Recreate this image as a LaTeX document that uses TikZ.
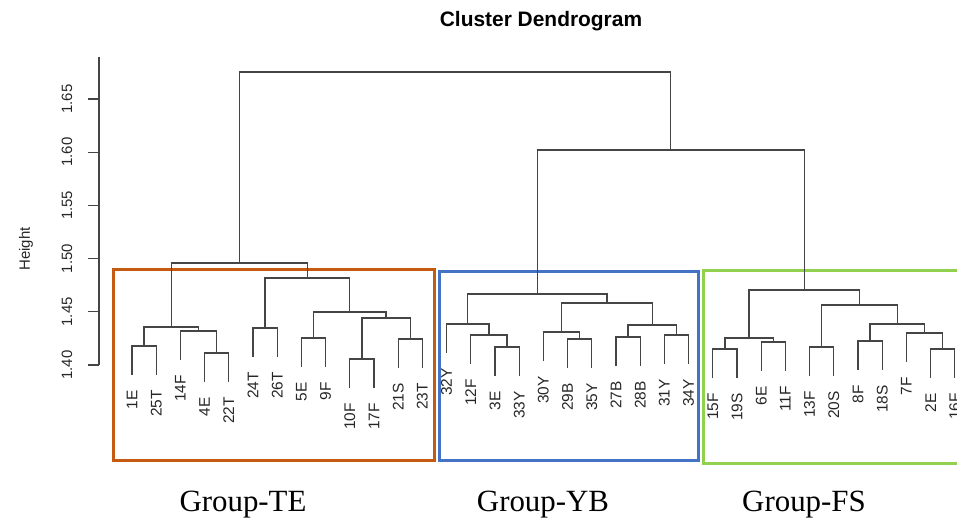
\documentclass[tikz,border=0pt]{standalone}
\usepackage{fontspec}
\setmainfont{Liberation Sans}
\newfontfamily\grpfont{Liberation Serif}
\usetikzlibrary{calc}
\definecolor{treec}{HTML}{454545}
\definecolor{boxTE}{HTML}{C55A11}
\definecolor{boxYB}{HTML}{4472C4}
\definecolor{boxFS}{HTML}{92D050}
\newcommand\leafpt[4]{%
  \coordinate (#1) at ({132+24.2*#2},#3);
  \node[leaflab] (t#1) at ({132+24.2*#2},{#3+15}) {#4};}
\newcommand\mergept[4]{%
  \coordinate (#1m) at ($(#2)!0.5!(#3)$);
  \coordinate (#1h) at (0,#4);
  \coordinate (#1) at (#1m |- #1h);
  \draw[tree] (#2) |- (#1) -| (#3);}
\begin{document}
\begin{tikzpicture}[x=1bp,y=-1bp,
  tree/.style={draw=treec,line width=1.3bp},
  leaflab/.style={rotate=90,anchor=east,inner sep=0pt,text=black!85,font=\fontsize{15.5}{18}\selectfont},
  ticklab/.style={rotate=90,anchor=center,inner sep=0pt,text=black!85,font=\fontsize{15}{18}\selectfont},
  grpbox/.style={line width=2.8bp},
  grplab/.style={anchor=base,inner sep=0pt,font=\grpfont\fontsize{31}{36}\selectfont}]
\useasboundingbox (0,0) rectangle (957,520);
\clip (0,0) rectangle (957,520);
% title
\node[anchor=base,inner sep=0pt,font=\bfseries\fontsize{21}{25}\selectfont] (title) at (541,27) {Cluster Dendrogram};
% axis
\coordinate (axtop) at (99,57);
\coordinate (axbot) at (99,365);
\draw[tree,line width=1.1bp] (axtop) -- (axbot);
\foreach \h/\lab in {0/1.65,1/1.60,2/1.55,3/1.50,4/1.45,5/1.40}{
  \coordinate (tk\h) at (99,{99+53.2*\h});
  \coordinate (tl\h) at (88,{99+53.2*\h});
  \draw[tree,line width=1.1bp] (tk\h) -- (tl\h);
  \node[ticklab] (tn\h) at (67,{99+53.2*\h}) {\lab};
}
\node[ticklab] (ylab) at (26,249) {Height};
% group boxes
\node[draw=boxTE,grpbox,inner sep=0pt,minimum width=321bp,minimum height=191bp,anchor=north west] (bTE) at (112,268) {};
\node[draw=boxYB,grpbox,inner sep=0pt,minimum width=259bp,minimum height=189bp,anchor=north west] (bYB) at (438,270) {};
\node[draw=boxFS,grpbox,inner sep=0pt,minimum width=270bp,minimum height=193bp,anchor=north west] (bFS) at (702,269) {};
% leaves
\leafpt{l1E}{0}{375}{1E}
\leafpt{l25T}{1}{375}{25T}
\leafpt{l14F}{2}{360}{14F}
\leafpt{l4E}{3}{382}{4E}
\leafpt{l22T}{4}{382}{22T}
\leafpt{l24T}{5}{357}{24T}
\leafpt{l26T}{6}{357}{26T}
\leafpt{l5E}{7}{367}{5E}
\leafpt{l9F}{8}{367}{9F}
\leafpt{l10F}{9}{388}{10F}
\leafpt{l17F}{10}{388}{17F}
\leafpt{l21S}{11}{368}{21S}
\leafpt{l23T}{12}{368}{23T}
\leafpt{l32Y}{13}{353}{32Y}
\leafpt{l12F}{14}{364}{12F}
\leafpt{l3E}{15}{376}{3E}
\leafpt{l33Y}{16}{376}{33Y}
\leafpt{l30Y}{17}{361}{30Y}
\leafpt{l29B}{18}{368}{29B}
\leafpt{l35Y}{19}{368}{35Y}
\leafpt{l27B}{20}{366}{27B}
\leafpt{l28B}{21}{366}{28B}
\leafpt{l31Y}{22}{364}{31Y}
\leafpt{l34Y}{23}{364}{34Y}
\leafpt{l15F}{24}{378}{15F}
\leafpt{l19S}{25}{378}{19S}
\leafpt{l6E}{26}{371}{6E}
\leafpt{l11F}{27}{371}{11F}
\leafpt{l13F}{28}{376}{13F}
\leafpt{l20S}{29}{376}{20S}
\leafpt{l8F}{30}{370}{8F}
\leafpt{l18S}{31}{370}{18S}
\leafpt{l7F}{32}{362}{7F}
\leafpt{l2E}{33}{378}{2E}
\leafpt{l16F}{34}{378}{16F}
% merges TE
\mergept{a1}{l1E}{l25T}{346}
\mergept{a2}{l4E}{l22T}{353}
\mergept{a3}{l14F}{a2}{331}
\mergept{a4}{a1}{a3}{327}
\mergept{a5}{l24T}{l26T}{328}
\mergept{a6}{l5E}{l9F}{338}
\mergept{a7}{l10F}{l17F}{359}
\mergept{a8}{l21S}{l23T}{339}
\mergept{a9}{a7}{a8}{318}
\mergept{a10}{a6}{a9}{312}
\mergept{a11}{a5}{a10}{278}
\mergept{gTE}{a4}{a11}{263}
% merges YB
\mergept{b1}{l3E}{l33Y}{347}
\mergept{b2}{l12F}{b1}{335}
\mergept{b3}{l32Y}{b2}{324}
\mergept{b4}{l29B}{l35Y}{339}
\mergept{b5}{l30Y}{b4}{332}
\mergept{b6}{l27B}{l28B}{337}
\mergept{b7}{l31Y}{l34Y}{335}
\mergept{b8}{b6}{b7}{325}
\mergept{b9}{b5}{b8}{303}
\mergept{gYB}{b3}{b9}{294}
% merges FS
\mergept{c1}{l15F}{l19S}{349}
\mergept{c2}{l6E}{l11F}{342}
\mergept{c3}{c1}{c2}{338}
\mergept{c4}{l13F}{l20S}{347}
\mergept{c5}{l8F}{l18S}{341}
\mergept{c6}{l2E}{l16F}{349}
\mergept{c7}{l7F}{c6}{333}
\mergept{c8}{c5}{c7}{324}
\mergept{c9}{c4}{c8}{305}
\mergept{gFS}{c3}{c9}{290}
% top
\mergept{rYF}{gYB}{gFS}{150}
\mergept{root}{gTE}{rYF}{72}
% group labels
\node[grplab] (labTE) at (243,511) {Group-TE};
\node[grplab] (labYB) at (543,511) {Group-YB};
\node[grplab] (labFS) at (804,511) {Group-FS};
\end{tikzpicture}
\end{document}
